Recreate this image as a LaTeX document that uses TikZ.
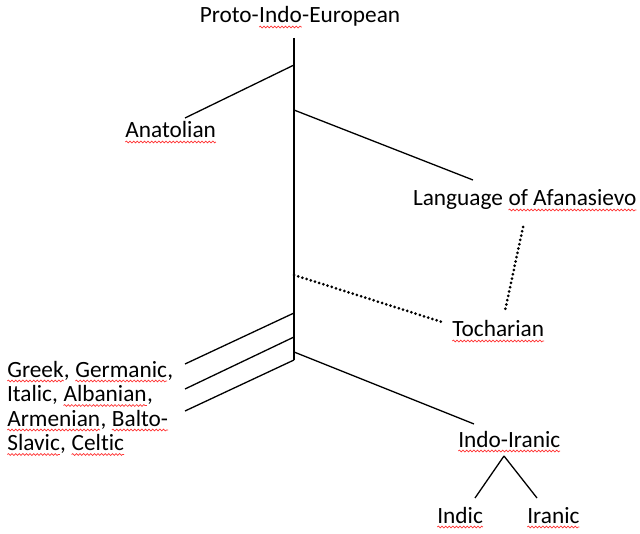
\documentclass[tikz,border=0pt]{standalone}
\usepackage{fontspec}
\setmainfont{Carlito}[Ligatures=NoCommon]
\usetikzlibrary{decorations.pathmorphing}
\newcommand\rw[1]{\tikz[baseline=(rwn.base)]{\node[inner sep=0pt,outer sep=0pt,anchor=base](rwn){#1};\draw[red!80!white,line width=0.7pt,decorate,decoration={snake,amplitude=0.9pt,segment length=3.6pt}] ([yshift=-4pt]rwn.base west) -- ([yshift=-4pt]rwn.base east);}}
\tikzset{
  lbl/.style={inner sep=0pt, outer sep=0pt, anchor=base west, font=\fontsize{23.3}{24.5}\selectfont},
  br/.style={line width=1.3pt, black},
  dotbr/.style={line width=3pt, line cap=round, dash pattern=on 0pt off 4.4pt, black}
}
\begin{document}
\begin{tikzpicture}[x=1pt,y=-1pt]
\useasboundingbox (0,0) rectangle (640,534);
% labels
\node[lbl, anchor=base] (pie) at (300,23) {Proto-\rw{Indo}-European};
\node[lbl] (ana) at (125,138) {\rw{Anatolian}};
\node[lbl] (afa) at (413,206) {Language \rw{of Afanasievo}};
\node[lbl] (toc) at (452,337) {\rw{Tocharian}};
\node[lbl, align=left] (grk) at (7,450.5) {\rw{Greek}, \rw{Germanic},\\Italic, \rw{Albanian},\\\rw{Armenian}, \rw{Balto-}\\\rw{Slavic}, \rw{Celtic}};
\node[lbl] (ii) at (458,447) {\rw{Indo-Iranic}};
\node[lbl] (ind) at (437,523) {\rw{Indic}};
\node[lbl] (ira) at (527,523) {\rw{Iranic}};
% trunk coordinates
\coordinate (top) at (294,38);
\coordinate (jA) at (294,65);
\coordinate (jL) at (294,110);
\coordinate (jT) at (294,275);
\coordinate (j1) at (294,313);
\coordinate (j2) at (294,337);
\coordinate (jI) at (294,352);
\coordinate (bot) at (294,360);
% branch ends
\coordinate (eA) at (185,118);
\coordinate (eL) at (473,180);
\coordinate (eT) at (442,322);
\coordinate (dA) at (523,227);
\coordinate (dT) at (505,311);
\coordinate (e1) at (185,364);
\coordinate (e2) at (185,389);
\coordinate (e3) at (185,411);
\coordinate (eI) at (474,424);
\coordinate (sp) at (504,456);
\coordinate (eInd) at (475,498);
\coordinate (eIra) at (537,498);
% trunk
\draw[br] (top) -- (bot);
% branches
\draw[br] (jA) -- (eA);
\draw[br] (jL) -- (eL);
\draw[dotbr] (jT) -- (eT);
\draw[dotbr] (dA) -- (dT);
\draw[br] (j1) -- (e1);
\draw[br] (j2) -- (e2);
\draw[br] (bot) -- (e3);
\draw[br] (jI) -- (eI);
\draw[br] (sp) -- (eInd);
\draw[br] (sp) -- (eIra);
\end{tikzpicture}
\end{document}
